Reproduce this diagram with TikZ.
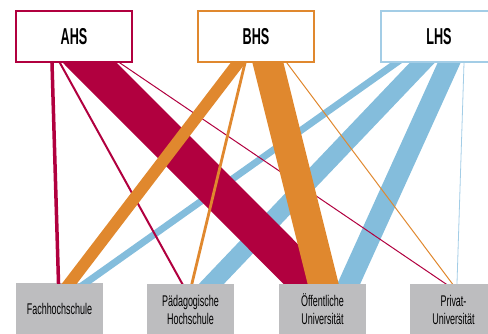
\documentclass[tikz,border=0pt]{standalone}
\usepackage{fontspec}
\setmainfont{Liberation Sans}
\newfontfamily\condfont[FakeStretch=0.58]{Liberation Sans}
\newfontfamily\condboldfont[FakeStretch=0.55]{Liberation Sans}
\usetikzlibrary{calc}
\definecolor{cM}{HTML}{B1003F}
\definecolor{cO}{HTML}{E0882E}
\definecolor{cB}{HTML}{84BDDC}
\definecolor{cBl}{HTML}{A3CDE6}
\definecolor{cG}{HTML}{BDBDBF}
\tikzset{
  topbox/.style={draw, line width=2pt, fill=white, minimum width=116pt, minimum height=51pt, inner sep=0pt,
    font=\condboldfont\bfseries\fontsize{23}{25}\selectfont},
  botbox/.style={fill=cG, draw=none, minimum width=87pt, minimum height=52pt, inner sep=0pt, align=center,
    font=\condfont\fontsize{15.5}{18}\selectfont},
  flow/.style={line cap=butt},
}
\newcommand{\flowband}[4]{\draw[flow, draw=#1, line width=#2pt] ($(#3)!-0.3!(#4)$) -- ($(#4)!-0.3!(#3)$);}
\begin{document}
\begin{tikzpicture}[x=1pt,y=-1pt]
\useasboundingbox (0,0) rectangle (488,333);
\clip (0,0) rectangle (488,333);
% top boxes
\node[topbox, draw=cM] (ahs) at (74,36.5) {AHS};
\node[topbox, draw=cO] (bhs) at (256,36.5) {BHS};
\node[topbox, draw=cBl] (lhs) at (439,36.5) {LHS};
% bottom boxes
\node[botbox] (fh) at (59.5,309) {Fachhochschule};
\node[botbox] (ph) at (190.5,309.5) {Pädagogische\\Hochschule};
\node[botbox] (oe) at (322.5,309.5) {Öffentliche\\Universität};
\node[botbox] (pr) at (453.5,309.5) {Privat-\\Universität};
% flow end points
\coordinate (m1t) at ($(ahs.south)+(-22,0)$);
\coordinate (m2t) at ($(ahs.south)+(-14,0)$);
\coordinate (m3t) at ($(ahs.south)+(16,0)$);
\coordinate (m4t) at ($(ahs.south)+(46,0)$);
\coordinate (o1t) at ($(bhs.south)+(-18,0)$);
\coordinate (o2t) at ($(bhs.south)+(-11,0)$);
\coordinate (o3t) at ($(bhs.south)+(12,0)$);
\coordinate (o4t) at ($(bhs.south)+(31,0)$);
\coordinate (b1t) at ($(lhs.south)+(-43,0)$);
\coordinate (b2t) at ($(lhs.south)+(-17,0)$);
\coordinate (b3t) at ($(lhs.south)+(10,0)$);
\coordinate (b4t) at ($(lhs.south)+(25,0)$);
\coordinate (m1b) at ($(fh.north)+(-1,0)$);
\coordinate (o1b) at ($(fh.north)+(10.5,0)$);
\coordinate (b1b) at ($(fh.north)+(26.5,0)$);
\coordinate (m2b) at ($(ph.north)+(-8.5,0)$);
\coordinate (o2b) at ($(ph.north)+(1.5,0)$);
\coordinate (b2b) at ($(ph.north)+(21.5,0)$);
\coordinate (m3b) at ($(oe.north)+(-12.5,0)$);
\coordinate (o3b) at ($(oe.north)+(0.5,0)$);
\coordinate (b3b) at ($(oe.north)+(26.5,0)$);
\coordinate (m4b) at ($(pr.north)+(-8.5,0)$);
\coordinate (o4b) at ($(pr.north)+(-1.5,0)$);
\coordinate (b4b) at ($(pr.north)+(3.5,0)$);
\begin{scope}
\clip (0,63) rectangle (488,283);
% LHS flows
\flowband{cB}{6.9}{b1t}{b1b}
\flowband{cB}{18.1}{b2t}{b2b}
\flowband{cB}{20.9}{b3t}{b3b}
\flowband{cBl}{0.8}{b4t}{b4b}
% AHS flows
\flowband{cM}{3.5}{m1t}{m1b}
\flowband{cM}{2}{m2t}{m2b}
\flowband{cM}{38.2}{m3t}{m3b}
\flowband{cM}{1}{m4t}{m4b}
% BHS flows
\flowband{cO}{11.9}{o1t}{o1b}
\flowband{cO}{2.8}{o2t}{o2b}
\flowband{cO}{30.1}{o3t}{o3b}
\flowband{cO}{1}{o4t}{o4b}
\end{scope}
\end{tikzpicture}
\end{document}
